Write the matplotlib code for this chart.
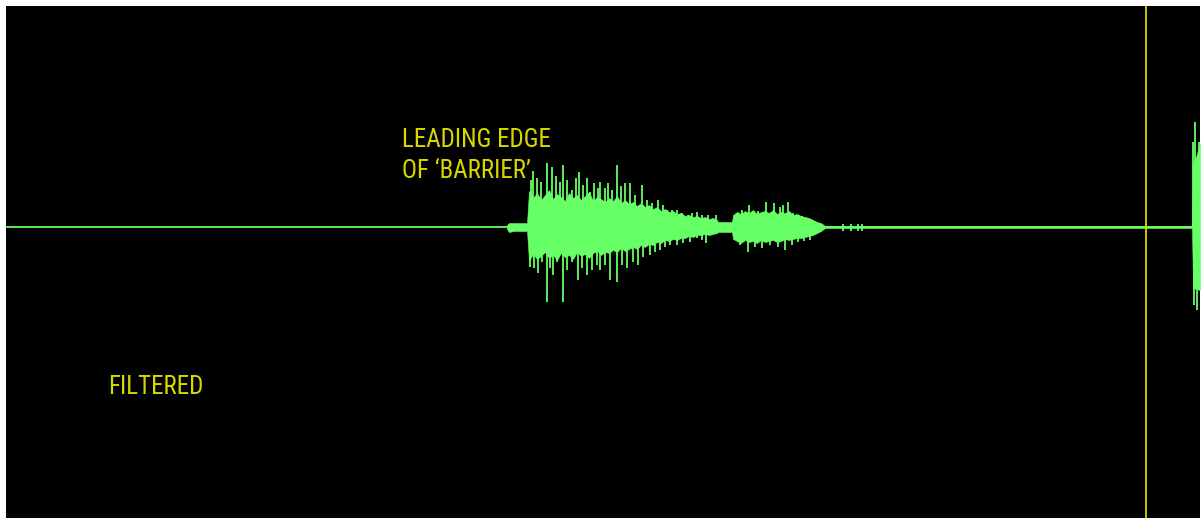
import matplotlib
matplotlib.use("Agg")
import matplotlib.pyplot as plt
from matplotlib import font_manager

# x = screen column from the left edge of the trace window, amplitude = pixels above zero line
# core (dense) envelope of the echo
env_x = [501, 503, 508, 515, 521,
         523, 527, 531, 535, 539, 543, 547, 551, 555, 559, 563, 567, 571, 575, 579, 583,
         587, 591, 595, 599, 603, 607, 611, 615, 619, 623, 627, 631, 635, 639, 643, 647,
         651, 655, 659, 663, 667, 671, 675, 679, 683, 687, 691, 695, 699, 703, 707, 711,
         712, 726,
         727, 731, 735, 739, 743, 747, 751, 755, 759, 763, 767, 771, 775, 779, 783, 787,
         791, 795, 799, 803, 807, 811, 815, 819,
         1186, 1187, 1190, 1194]
env_hi = [2, 4, 4, 4, 4,
          36, 29, 34, 27, 32, 37, 28, 33, 30, 26, 34, 29, 32, 27, 31, 35,
          26, 30, 28, 25, 29, 26, 31, 24, 27, 23, 25, 21, 24, 20, 22, 18,
          20, 16, 18, 15, 16, 13, 14, 11, 12, 10, 11, 9, 10, 8, 9, 7,
          5, 5,
          12, 15, 13, 16, 14, 17, 13, 15, 16, 14, 17, 13, 15, 14, 16, 12,
          13, 11, 10, 9, 7, 5, 4, 1,
          1, 64, 70, 84]
env_lo = [-2, -5, -4, -4, -4,
          -34, -27, -32, -29, -25, -31, -28, -33, -26, -30, -28, -32, -25, -29, -27, -31,
          -26, -24, -28, -25, -26, -23, -25, -21, -24, -22, -20, -22, -18, -20, -17, -18,
          -15, -16, -13, -14, -12, -13, -11, -11, -9, -10, -8, -8, -7, -8, -7, -6,
          -5, -5,
          -12, -14, -16, -13, -15, -14, -16, -13, -15, -14, -13, -15, -14, -12, -13, -12,
          -11, -11, -10, -9, -8, -6, -4, -1,
          -1, -61, -62, -63]

# upward spikes
up_x = [525, 527, 531, 535, 541, 546, 550, 554, 557, 561, 566, 570, 573, 577, 581, 584,
        588, 592, 594, 599, 602, 606, 611, 615, 619, 624, 629, 636, 641, 646, 652, 657,
        661, 666, 671, 676, 682, 686, 691, 696, 702, 710, 736, 743, 752, 760, 768, 774,
        777, 782, 787, 791, 796, 801, 837, 845, 852, 856, 1187, 1189, 1193]
up_amp = [47, 56, 49, 45, 64, 60, 51, 45, 62, 47, 37, 49, 55, 42, 49, 35,
          44, 39, 45, 39, 44, 37, 62, 41, 44, 44, 32, 42, 27, 24, 27, 22,
          17, 17, 17, 14, 12, 14, 15, 12, 12, 12, 17, 22, 16, 25, 24, 20,
          22, 25, 14, 12, 11, 9, 3, 3, 3, 3, 85, 105, 85]

# downward spikes
dn_x = [524, 528, 532, 536, 541, 544, 547, 551, 557, 561, 566, 572, 576, 581, 586, 591,
        594, 599, 604, 611, 616, 621, 627, 632, 637, 644, 649, 654, 659, 664, 671, 677,
        684, 691, 696, 700, 734, 742, 749, 756, 764, 772, 779, 786, 792, 798, 804, 837,
        845, 852, 856, 1188, 1191]
dn_amp = [-40, -41, -46, -35, -75, -41, -48, -35, -75, -43, -35, -53, -41, -48, -43, -38,
          -43, -38, -53, -55, -38, -41, -35, -38, -30, -28, -25, -23, -20, -18, -18, -16,
          -15, -11, -13, -16, -18, -25, -20, -21, -18, -20, -23, -18, -15, -14, -13, -4,
          -4, -4, -4, -78, -83]

marker_x = 1140  # yellow cursor
labels = ["LEADING EDGE\nOF \u2018BARRIER\u2019", "FILTERED"]
label_x = [396, 102]
label_y = [49, -167]

green = "#66ff66"
yellow = "#d8d800"

# pick a narrow face if one is installed
fonts = font_manager.fontManager.ttflist
narrow = None
for f in fonts:
    if f.name in ("Roboto Condensed", "Liberation Sans Narrow", "Open Sans Condensed",
                  "Noto Sans Condensed"):
        narrow = dict(family=f.name)
        break
if narrow is None:
    for f in fonts:
        if f.name in ("DejaVu Sans", "Noto Sans", "Roboto", "Open Sans") and \
                str(f.stretch) in ("condensed", "semi-condensed", "extra-condensed"):
            narrow = dict(family=f.name, fontstretch=f.stretch)
            break
if narrow is None:
    narrow = dict(family="Roboto")

fig = plt.figure(figsize=(12.04, 5.21), dpi=100, facecolor="white")
ax = fig.add_axes([6 / 1204, 3 / 521, 1194 / 1204, 512 / 521])
ax.set_facecolor("black")
ax.set_xlim(0, 1194)
ax.set_ylim(-291, 221)
for s in ax.spines.values():
    s.set_visible(False)
ax.set_xticks([])
ax.set_yticks([])

# zero line
ax.axhline(0, color=green, lw=1.3, zorder=2)
ax.fill_between(env_x, env_lo, env_hi, color=green, lw=0.4, zorder=3)
ax.vlines(up_x, 0, up_amp, color=green, lw=1.3, zorder=3)
ax.vlines(dn_x, 0, dn_amp, color=green, lw=1.3, zorder=3)

ax.axvline(marker_x, color=yellow, lw=1.3, zorder=4)

for t, x, y in zip(labels, label_x, label_y):
    ax.text(x, y, t, color=yellow, fontsize=18, va="baseline", ha="left",
            linespacing=1.38, **narrow)

fig.savefig("out.png", dpi=100, facecolor="white")
